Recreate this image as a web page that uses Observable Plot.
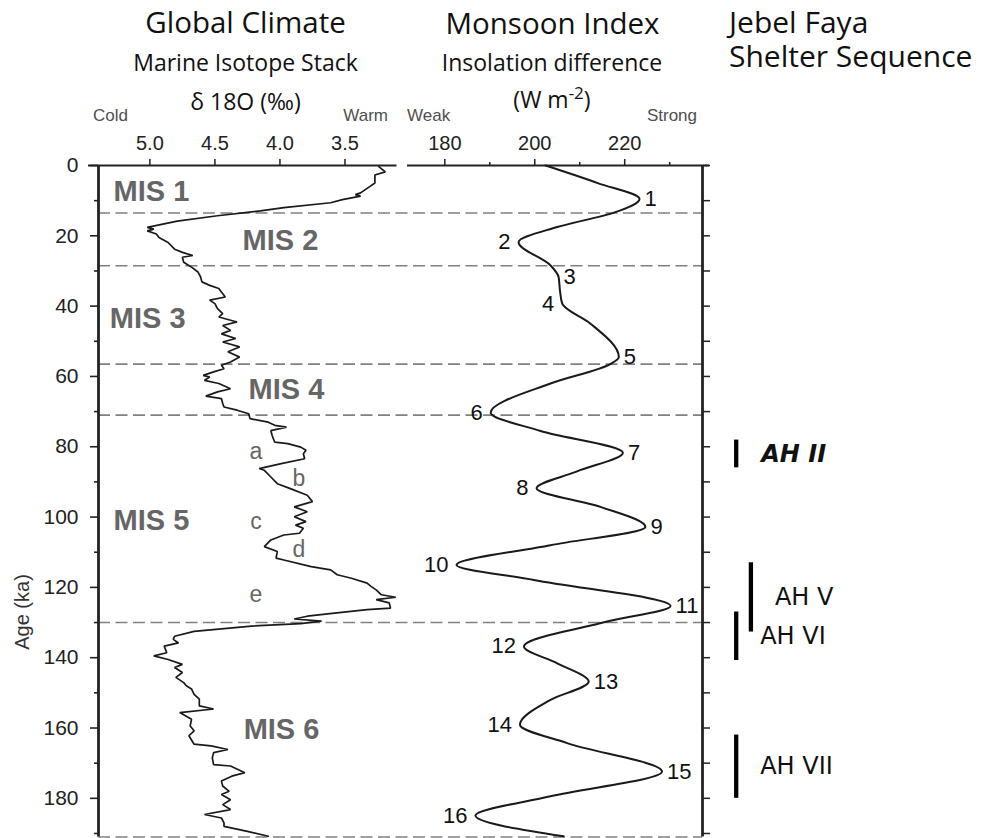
<!DOCTYPE html>
<html>
<head>
<meta charset="utf-8">
<script src="https://cdn.jsdelivr.net/npm/d3@7"></script>
<script src="https://cdn.jsdelivr.net/npm/@observablehq/plot@0.6"></script>
<style>
html, body { margin: 0; padding: 0; background: #fff; }
#chart { position: relative; width: 989px; height: 838px; overflow: hidden; background: #fff; }
#chart svg { position: absolute; left: 0; top: 0; }
.t { position: absolute; white-space: nowrap; line-height: 1; }
.os { font-family: "Open Sans", sans-serif; color: #111; }
.ls { font-family: "Liberation Sans", Arial, sans-serif; }
.c { width: 400px; text-align: center; }
.g { color: #4f4f4f; font-size: 17px; }
</style>
</head>
<body>
<div id="chart">
  <div class="t os c" style="left:45.5px; top:7px; font-size:29.5px;">Global Climate</div>
  <div class="t os c" style="left:45.5px; top:51px; font-size:23px;">Marine Isotope Stack</div>
  <div class="t os c" style="left:45.5px; top:89.5px; font-size:23px;">δ 18O (‰)</div>
  <div class="t os c" style="left:352.5px; top:8px; font-size:29.5px;">Monsoon Index</div>
  <div class="t os c" style="left:352px; top:51px; font-size:23px;">Insolation difference</div>
  <div class="t os c" style="left:352px; top:88px; font-size:23px;">(W m<span style="position:relative; top:-9px; font-size:17px;">-2</span>)</div>
  <div class="t os" style="left:729px; top:5px; font-size:30px; line-height:33.7px;">Jebel Faya<br>Shelter Sequence</div>
  <div class="t ls g" style="left:93px; top:106.5px;">Cold</div>
  <div class="t ls g" style="right:601px; top:106.5px;">Warm</div>
  <div class="t ls g" style="left:407px; top:107px;">Weak</div>
  <div class="t ls g" style="right:292px; top:107px;">Strong</div>
  <div class="t ls" style="left:22px; top:612px; font-size:20px; color:#333; transform:translate(-50%,-50%) rotate(-90deg);">Age (ka)</div>
</div>
<script>
const W = 989, H = 838;

// ---- shared age axis (ka) ----
const ageDomain = [0, 191];
const ageMajorTicks = [0, 20, 40, 60, 80, 100, 120, 140, 160, 180];
const ageMinorTicks = [10, 30, 50, 70, 90, 110, 130, 150, 170, 190];
const ageRightTicks = [0, 10, 20, 30, 40, 50, 60, 70, 80, 90, 100, 110, 120, 130, 140, 150, 160, 170, 180, 190];
const boundaryAge = [13.5, 28.5, 56.5, 71, 130, 191];

// ---- Marine isotope stack (δ18O ‰) ----
const isoTicks = [5.0, 4.5, 4.0, 3.5];
const isoAge = [0.3, 1.8, 2.7, 5.0, 6.0, 7.8, 8.3, 8.7, 9.7, 10.6, 12.0, 12.9, 14.3, 15.8, 17.6, 18.1, 18.6, 19.5, 20.5, 21.9,
  23.8, 24.7, 25.6, 26.1, 27.5, 28.9, 30.3, 31.7, 33.1, 34.1, 35.0, 36.0, 37.4, 38.3, 39.3, 40.7, 42.1, 43.1, 44.5, 45.5,
  46.9, 47.9, 49.2, 50.2, 51.6, 53.0, 54.5, 55.9, 56.8, 57.8, 58.7, 59.7, 60.2, 61.1, 62.0, 63.5, 64.4, 65.6, 66.3, 67.7,
  68.7, 69.6, 70.6, 72.0, 73.0, 73.9, 74.4, 75.4, 76.8, 78.7, 79.1, 80.1, 81.0, 82.0, 83.4, 84.8, 86.2, 86.7, 88.6, 90.5,
  91.9, 93.8, 95.6, 97.1, 98.5, 99.9, 101.3, 102.3, 103.2, 104.6, 105.1, 106.5, 108.4, 109.8, 111.7, 112.2, 114.1, 115.0, 116.4, 117.4,
  118.8, 119.7, 120.7, 122.1, 122.8, 123.5, 124.4, 125.9, 126.3, 127.3, 128.2, 129.0, 129.6, 130.3, 131.0, 132.5, 133.9, 134.8, 135.8, 136.7,
  138.6, 139.5, 140.5, 141.9, 142.8, 144.2, 145.6, 147.1, 148.0, 148.9, 150.4, 151.8, 153.7, 154.6, 155.6, 157.5, 159.4, 160.8, 162.2, 164.6,
  165.1, 166.1, 167.0, 168.5, 170.4, 170.8, 172.7, 173.7, 175.1, 176.5, 178.0, 178.9, 180.4, 181.8, 183.2, 184.6, 185.6, 187.0, 188.0, 189.4, 190.8];
const isoValue = [3.24, 3.19, 3.27, 3.27, 3.31, 3.38, 3.42, 3.38, 3.52, 3.61, 3.97, 4.15, 4.48, 4.79, 5.02, 4.97, 5.02, 4.95, 4.93, 4.86,
  4.81, 4.75, 4.67, 4.75, 4.74, 4.68, 4.63, 4.61, 4.60, 4.54, 4.47, 4.45, 4.42, 4.54, 4.50, 4.48, 4.44, 4.47, 4.33, 4.44,
  4.38, 4.45, 4.34, 4.44, 4.31, 4.40, 4.31, 4.38, 4.45, 4.43, 4.51, 4.59, 4.54, 4.58, 4.47, 4.38, 4.48, 4.57, 4.45, 4.44,
  4.43, 4.33, 4.24, 4.23, 4.09, 4.04, 3.95, 4.07, 4.06, 4.04, 3.94, 3.84, 3.80, 3.82, 3.81, 3.99, 4.16, 4.12, 4.07, 4.02,
  3.92, 3.79, 3.75, 3.89, 3.79, 3.89, 3.80, 3.88, 3.82, 3.85, 3.97, 4.07, 4.12, 4.02, 4.03, 3.97, 3.76, 3.61, 3.56, 3.45,
  3.33, 3.30, 3.26, 3.22, 3.11, 3.26, 3.16, 3.15, 3.33, 3.58, 3.79, 3.89, 3.68, 3.84, 4.22, 4.66, 4.81, 4.82, 4.78, 4.89,
  4.87, 4.97, 4.86, 4.75, 4.81, 4.75, 4.80, 4.74, 4.72, 4.68, 4.66, 4.62, 4.62, 4.51, 4.77, 4.68, 4.69, 4.66, 4.70, 4.66,
  4.53, 4.40, 4.51, 4.52, 4.51, 4.38, 4.27, 4.37, 4.45, 4.44, 4.39, 4.45, 4.38, 4.44, 4.38, 4.58, 4.45, 4.43, 4.43, 4.25, 4.09];
const misName = ["MIS 1", "MIS 2", "MIS 3", "MIS 4", "MIS 5", "MIS 6"];
const misAge = [7.4, 21.3, 43.7, 63.8, 101, 160.6];
const misValue = [5.279, 4.287, 5.308, 4.241, 5.279, 4.279];
const subName = ["a", "b", "c", "d", "e"];
const subAge = [81.3, 89, 101.3, 109.4, 122];
const subValue = [4.185, 3.854, 4.185, 3.854, 4.185];

// ---- Monsoon index (insolation difference, W m-2) ----
const monTicks = [180, 200, 220];
const monMinorTicks = [190, 210, 230];
const monAge = [0, 5, 9.5, 13.4, 17.5, 21.8, 28.4, 31.7, 35.5, 39.3, 45, 54.5, 56.5, 62, 70.3, 75.5, 81.7, 87, 91.8, 97.1,
  102.8, 108, 113.6, 117.9, 125.3, 129.7, 136.8, 141.6, 146.8, 152, 159.1, 164.3, 172.4, 179.4, 184.9, 190.8];
const monValue = [202.4, 214.0, 223.3, 217.6, 205.0, 196.4, 203.5, 205.3, 205.6, 206.1, 212.4, 218.7, 216.8, 203.5, 190.2, 201.3, 219.6, 209.4, 200.4, 214.6,
  224.6, 203.5, 182.6, 199.8, 230.2, 216.1, 197.6, 205.0, 212.0, 203.5, 196.7, 207.2, 228.3, 203.5, 186.8, 206.4];
const extremumNumber = [1, 2, 3, 4, 5, 6, 7, 8, 9, 10, 11, 12, 13, 14, 15, 16];
const extremumAge = [9.5, 21.8, 31.7, 39.3, 54.5, 70.3, 81.7, 91.8, 102.8, 113.6, 125.3, 136.8, 146.8, 159.1, 172.4, 184.9];
const extremumValue = [223.3, 196.4, 205.3, 206.1, 218.7, 190.2, 219.6, 200.4, 224.6, 182.6, 230.2, 197.6, 212.0, 196.7, 228.3, 186.8];

// ---- Jebel Faya archaeological horizons ----
const ahName = ["AH II", "AH V", "AH VI", "AH VII"];
const ahTop = [78.1, 113, 127, 162];
const ahBottom = [86, 132.7, 140.8, 180];
const ahLane = [1, 2, 1, 1];
const ahHighlighted = "AH II";

// ---- tables built from the arrays ----
const iso = isoAge.map((a, i) => ({age: a, value: isoValue[i]}));
const mis = misName.map((n, i) => ({name: n, age: misAge[i], value: misValue[i]}));
const sub = subName.map((n, i) => ({name: n, age: subAge[i], value: subValue[i]}));
const mon = monAge.map((a, i) => ({age: a, value: monValue[i]}));
const ext = extremumNumber.map((n, i) => ({n, age: extremumAge[i], value: extremumValue[i]}));
const ah = ahName.map((n, i) => ({name: n, top: ahTop[i], bottom: ahBottom[i], mid: (ahTop[i] + ahBottom[i]) / 2, lane: ahLane[i]}));

const isoDomain = [5.395, 3.1];
const monDomain = [171.7, 237.3];
const laneDomain = [0, 10];

const common = {
  width: W, height: H, marginTop: 165, marginBottom: 1.5,
  style: {background: "transparent", fontFamily: "'Liberation Sans', Arial, sans-serif", overflow: "visible", maxWidth: "none"}
};
const yScale = {domain: ageDomain, reverse: true};
const axisInk = "#222";
const chart = document.getElementById("chart");

// base: MIS boundaries
const base = Plot.plot({
  ...common, marginLeft: 98, marginRight: W - 702,
  y: {...yScale, axis: null},
  marks: [
    Plot.ruleY(boundaryAge, {stroke: "#808080", strokeWidth: 1.6, strokeDasharray: "12,5.5"})
  ]
});

// left panel: isotope stack
const left = Plot.plot({
  ...common, marginLeft: 98, marginRight: W - 396.5,
  x: {domain: isoDomain},
  y: yScale,
  marks: [
    Plot.axisX({anchor: "top", ticks: isoTicks, tickFormat: d3.format(".1f"), tickSize: 7, tickPadding: 9, fontSize: 20, color: axisInk, strokeWidth: 1.5, label: null}),
    Plot.axisY({anchor: "left", ticks: ageMajorTicks, tickSize: 8, tickPadding: 12, fontSize: 21, color: axisInk, strokeWidth: 1.6, label: null}),
    Plot.axisY({anchor: "left", ticks: ageMinorTicks, tickSize: 4, tickFormat: () => "", color: axisInk, strokeWidth: 1.6, label: null}),
    Plot.ruleY([0], {insetLeft: -10, stroke: axisInk, strokeWidth: 2}),
    Plot.ruleX([isoDomain[0]], {stroke: axisInk, strokeWidth: 2.8}),
    Plot.line(iso, {x: "value", y: "age", stroke: "#1a1a1a", strokeWidth: 1.7, strokeLinejoin: "miter"}),
    Plot.text(mis, {x: "value", y: "age", text: "name", textAnchor: "start", fontSize: 29, fontWeight: "bold", fill: "#666"}),
    Plot.text(sub, {x: "value", y: "age", text: "name", textAnchor: "middle", fontSize: 23, fill: "#666"})
  ]
});

// right panel: monsoon index
const right = Plot.plot({
  ...common, marginLeft: 407, marginRight: W - 702,
  x: {domain: monDomain},
  y: yScale,
  marks: [
    Plot.axisX({anchor: "top", ticks: monTicks, tickFormat: d3.format("d"), tickSize: 7, tickPadding: 9, fontSize: 20, color: axisInk, strokeWidth: 1.5, label: null}),
    Plot.axisX({anchor: "top", ticks: monMinorTicks, tickSize: 4, tickFormat: () => "", color: axisInk, strokeWidth: 1.5, label: null}),
    Plot.axisY({anchor: "right", ticks: ageRightTicks, tickSize: 7, tickFormat: () => "", color: axisInk, strokeWidth: 1.5, label: null}),
    Plot.ruleY([0], {insetRight: -7, stroke: axisInk, strokeWidth: 2}),
    Plot.ruleX([monDomain[1]], {stroke: axisInk, strokeWidth: 2.8}),
    Plot.line(mon, {x: "value", y: "age", curve: "monotone-y", stroke: "#1a1a1a", strokeWidth: 2}),
    Plot.text(ext, {filter: d => d.n % 2 === 1, x: "value", y: "age", text: "n", textAnchor: "start", dx: 5, fontSize: 22, fill: "#111"}),
    Plot.text(ext, {filter: d => d.n % 2 === 0, x: "value", y: "age", text: "n", textAnchor: "end", dx: -8, fontSize: 22, fill: "#111"})
  ]
});

// far right: Jebel Faya horizons
const seq = Plot.plot({
  ...common, marginLeft: 721, marginRight: W - 868,
  x: {domain: laneDomain, axis: null},
  y: {...yScale, axis: null},
  marks: [
    Plot.ruleX(ah, {x: "lane", y1: "top", y2: "bottom", stroke: "#000", strokeWidth: 4.3}),
    Plot.text(ah, {filter: d => d.name !== ahHighlighted, x: "lane", y: "mid", text: "name", textAnchor: "start", dx: 24, fontSize: 24, fontFamily: "'DejaVu Sans', sans-serif", fill: "#111"}),
    Plot.text(ah, {filter: d => d.name === ahHighlighted, x: "lane", y: "mid", text: "name", textAnchor: "start", dx: 25, fontSize: 24, fontWeight: "bold", fontStyle: "italic", fontFamily: "'DejaVu Sans', sans-serif", fill: "#111"})
  ]
});

for (const svg of [seq, right, left, base]) {
  svg.style.position = "absolute";
  svg.style.left = "0px";
  svg.style.top = "0px";
  chart.insertBefore(svg, chart.firstChild);
}
</script>
</body>
</html>
